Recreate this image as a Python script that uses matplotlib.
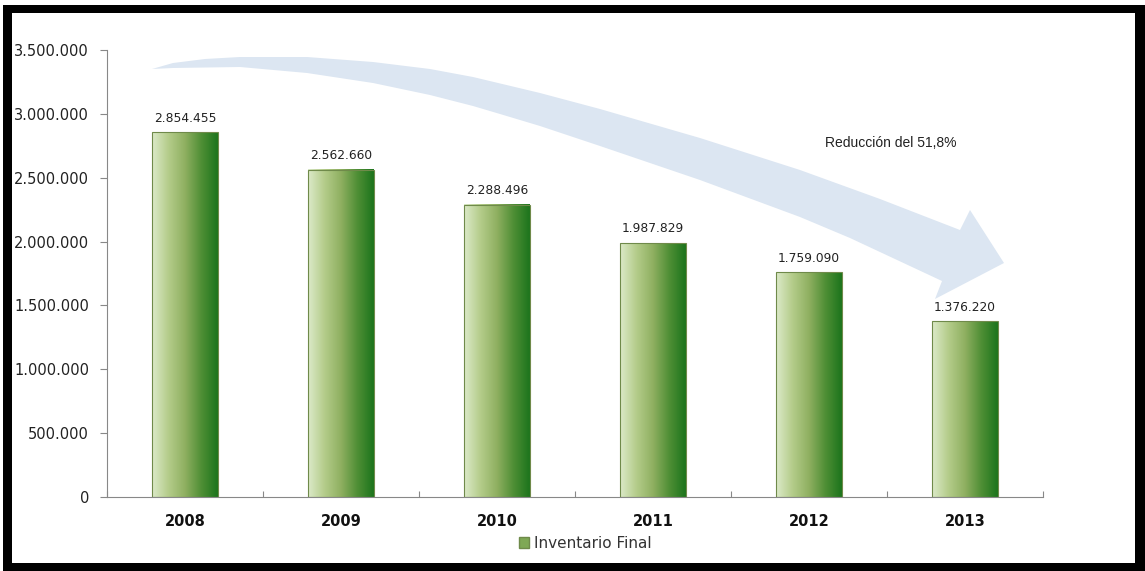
import matplotlib.pyplot as plt
import numpy as np
from matplotlib.colors import LinearSegmentedColormap
from matplotlib.patches import Polygon, Rectangle, Patch
from matplotlib.ticker import FuncFormatter, FixedLocator

years = ['2008', '2009', '2010', '2011', '2012', '2013']
inventario = [2854455, 2562660, 2288496, 1987829, 1759090, 1376220]
series_name = 'Inventario Final'
nota = 'Reducción del 51,8%'


def miles(v):
    #formato con punto de miles
    return '{:,.0f}'.format(v).replace(',', '.')


fig = plt.figure(figsize=(11.45, 5.71), dpi=100)

#capa de fondo en pixeles: marco negro y flecha
bg = fig.add_axes([0, 0, 1, 1], zorder=0)
bg.set_xlim(0, 1145)
bg.set_ylim(571, 0)
bg.axis('off')

for r in [(3, 5, 1142, 8), (3, 5, 9, 566), (3, 563, 1142, 8), (1135, 5, 10, 566)]:
    bg.add_patch(Rectangle((r[0], r[1]), r[2], r[3], color='black', lw=0))

top_edge = [(152, 69), (173, 63), (205, 59), (240, 57), (307, 57), (373, 62), (430, 69),
            (473, 77), (540, 93), (600, 109), (700, 138), (800, 170), (880, 199), (960, 230)]
head = [(970, 210), (1004, 263), (935, 299)]
bot_edge = [(942, 281), (850, 238), (800, 217), (700, 180), (600, 146), (540, 126),
            (500, 114), (473, 106), (430, 95), (373, 83), (307, 73), (240, 67), (173, 68)]
bg.add_patch(Polygon(top_edge + head + bot_edge, closed=True, facecolor='#dce6f2',
                     edgecolor='none'))

#grafico de barras
ax = fig.add_axes([107/1145, 1 - 497/571, (1043 - 107)/1145, (497 - 50)/571], zorder=1)
ax.patch.set_alpha(0)

x = np.arange(len(years))
bars = ax.bar(x, inventario, width=0.42, color='none', edgecolor='#6f8a4a', linewidth=0.8,
              zorder=3)

cmap = LinearSegmentedColormap.from_list('verde', ['#dceac9', '#b4cc8a', '#8fb061',
                                                   '#4f8f35', '#1c741c'])
grad = np.linspace(0, 1, 256).reshape(1, -1)
for b in bars:
    ax.imshow(grad, extent=[b.get_x(), b.get_x() + b.get_width(), 0, b.get_height()],
              aspect='auto', cmap=cmap, zorder=2, interpolation='bilinear')

for b, v in zip(bars, inventario):
    ax.annotate(miles(v), (b.get_x() + b.get_width() / 2, v), xytext=(0, 5.5),
                textcoords='offset points', ha='center', va='bottom', fontsize=8.8,
                color='#222222')

ax.set_xlim(-0.5, len(years) - 0.5)
ax.set_ylim(0, 3500000)
ax.set_yticks(np.arange(0, 3500001, 500000))
ax.yaxis.set_major_formatter(FuncFormatter(lambda v, p: miles(v)))
ax.tick_params(axis='y', labelsize=10.5, length=5, width=0.8, color='#888888', pad=8,
               labelcolor='#222222')

ax.set_xticks(x)
ax.set_xticklabels(years, fontweight='bold', fontsize=10.5)
ax.tick_params(axis='x', length=0, pad=12, labelcolor='#111111')
ax.xaxis.set_minor_locator(FixedLocator(np.arange(-0.5, len(years), 1)))
ax.tick_params(axis='x', which='minor', direction='in', length=4, width=0.8, color='#888888')

for s in ['top', 'right']:
    ax.spines[s].set_visible(False)
for s in ['left', 'bottom']:
    ax.spines[s].set_color('#888888')
    ax.spines[s].set_linewidth(0.8)

fig.text(891/1145, 1 - 143/571, nota, ha='center', va='center', fontsize=10,
         family='Liberation Sans', color='#222222')

leg = fig.legend(handles=[Patch(facecolor='#7fa855', edgecolor='#6f8a4a', label=series_name)],
                 loc='center', bbox_to_anchor=(585/1145, 1 - 543/571), frameon=False,
                 fontsize=11, handlelength=0.7, handleheight=0.7, handletextpad=0.3)
for t in leg.get_texts():
    t.set_color('#333333')

fig.savefig('out.png', dpi=100)
